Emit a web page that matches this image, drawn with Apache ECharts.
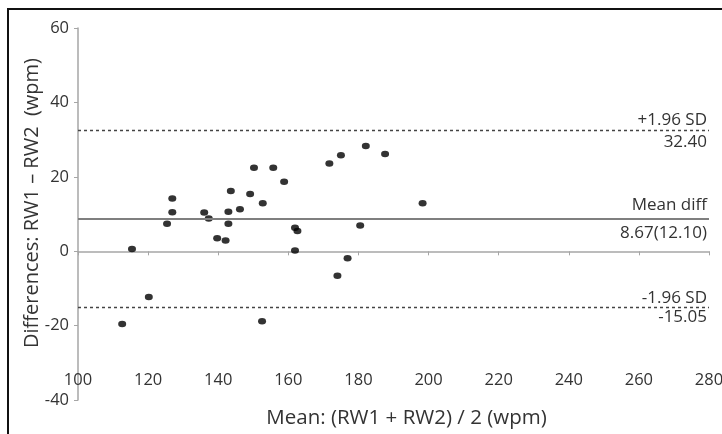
<!DOCTYPE html>
<html>
<head>
<meta charset="utf-8">
<script src="https://cdn.jsdelivr.net/npm/echarts@6/dist/echarts.min.js"></script>
<style>
html,body{margin:0;padding:0;background:#fff;}
#chart{width:722px;height:434px;}
#frame{position:absolute;left:7px;top:8px;width:740px;height:440px;border-left:2px solid #111;border-top:2px solid #111;pointer-events:none;}
</style>
</head>
<body>
<div id="chart"></div>
<div id="frame"></div>
<script>
// Data (Bland-Altman plot)
const meanValues = [115.4, 120.2, 112.6, 125.4, 126.9, 126.9, 136.0, 137.3, 139.7, 142.1, 142.9, 142.9, 143.6, 146.2, 149.1, 150.2, 155.7, 152.7, 152.5, 158.8, 161.9, 162.6, 161.9, 171.7, 175.0, 182.1, 187.6, 198.3, 180.5, 176.9, 174.0];
const diffValues = [0.6, -12.3, -19.6, 7.4, 10.5, 14.2, 10.4, 8.8, 3.5, 2.9, 7.4, 10.6, 16.2, 11.3, 15.4, 22.4, 22.4, 12.9, -18.8, 18.7, 6.3, 5.4, 0.2, 23.6, 25.8, 28.3, 26.1, 12.9, 6.9, -1.9, -6.6];
const xTicks = [100, 120, 140, 160, 180, 200, 220, 240, 260, 280];
const yTicks = [-40, -20, 0, 20, 40, 60];
const upperLoA = 32.40;
const meanDiff = 8.67;
const sdDiff = 12.10;
const lowerLoA = -15.05;
const xAxisCross = -30;

const FONT = 'Open Sans';
const TXT = '#333333';
const AX = '#a6a6a6';

const points = meanValues.map((m, i) => [m, diffValues[i]]);

const chart = echarts.init(document.getElementById('chart'), null, {renderer: 'canvas'});
chart.setOption({
  animation: false,
  textStyle: {fontFamily: FONT},
  grid: [
    {left: 78, right: 13, top: 28, bottom: 34, containLabel: false, outerBoundsMode: 'none'},
    {left: 78, right: 13, top: 28, bottom: 71, containLabel: false, outerBoundsMode: 'none'}
  ],
  xAxis: [
    {gridIndex: 0, type: 'value', min: xTicks[0], max: xTicks[xTicks.length - 1], interval: 20, show: false},
    {gridIndex: 1, type: 'value', min: xTicks[0], max: xTicks[xTicks.length - 1], interval: 20,
     axisLine: {show: true, lineStyle: {color: AX, width: 1.5}},
     axisTick: {show: true, length: 4, lineStyle: {color: AX}},
     splitLine: {show: false},
     axisLabel: {fontSize: 16.5, color: TXT, fontFamily: FONT, margin: 9},
     name: 'Mean: (RW1 + RW2) / 2 (wpm)', nameLocation: 'middle', nameGap: 45,
     nameTextStyle: {fontSize: 20.5, color: TXT, fontFamily: FONT, padding: [0, 0, 0, 26]}
    }
  ],
  yAxis: [
    {gridIndex: 0, type: 'value', min: yTicks[0], max: yTicks[yTicks.length - 1], interval: 20,
     axisLine: {show: true, lineStyle: {color: AX, width: 1.5}},
     axisTick: {show: true, length: 4, lineStyle: {color: AX}},
     splitLine: {show: false},
     axisLabel: {fontSize: 16.5, color: TXT, fontFamily: FONT, margin: 9},
     name: 'Differences: RW1 \u2013 RW2  (wpm)', nameLocation: 'middle', nameGap: 36, nameRotate: 90,
     nameMoveOverlap: false,
     nameTextStyle: {fontSize: 20, color: TXT, fontFamily: FONT, padding: [0, 0, 0, 22]}
    },
    {gridIndex: 1, type: 'value', min: xAxisCross, max: yTicks[yTicks.length - 1], show: false}
  ],
  series: [{
    type: 'scatter',
    xAxisIndex: 0, yAxisIndex: 0,
    data: points,
    symbol: 'circle',
    symbolSize: [8, 6.5],
    itemStyle: {color: '#000'},
    markLine: {
      silent: true,
      symbol: 'none',
      animation: false,
      data: [
        {yAxis: upperLoA, lineStyle: {color: '#444', type: [3, 3], width: 1.4},
         label: {formatter: '+1.96 SD\n' + upperLoA.toFixed(2)}},
        {yAxis: meanDiff, lineStyle: {color: '#7f7f7f', type: 'solid', width: 2},
         label: {formatter: 'Mean diff\n' + meanDiff.toFixed(2) + '(' + sdDiff.toFixed(2) + ')', lineHeight: 28, padding: [2, 0, 0, 0]}},
        {yAxis: lowerLoA, lineStyle: {color: '#444', type: [3, 3], width: 1.4},
         label: {formatter: '-1.96 SD\n' + lowerLoA.toFixed(2), lineHeight: 19, padding: [4, 0, 0, 0]}}
      ],
      label: {position: 'insideEnd', distance: 2, fontSize: 17, color: TXT, fontFamily: FONT, lineHeight: 22, align: 'right'}
    }
  }]
});
</script>
</body>
</html>
